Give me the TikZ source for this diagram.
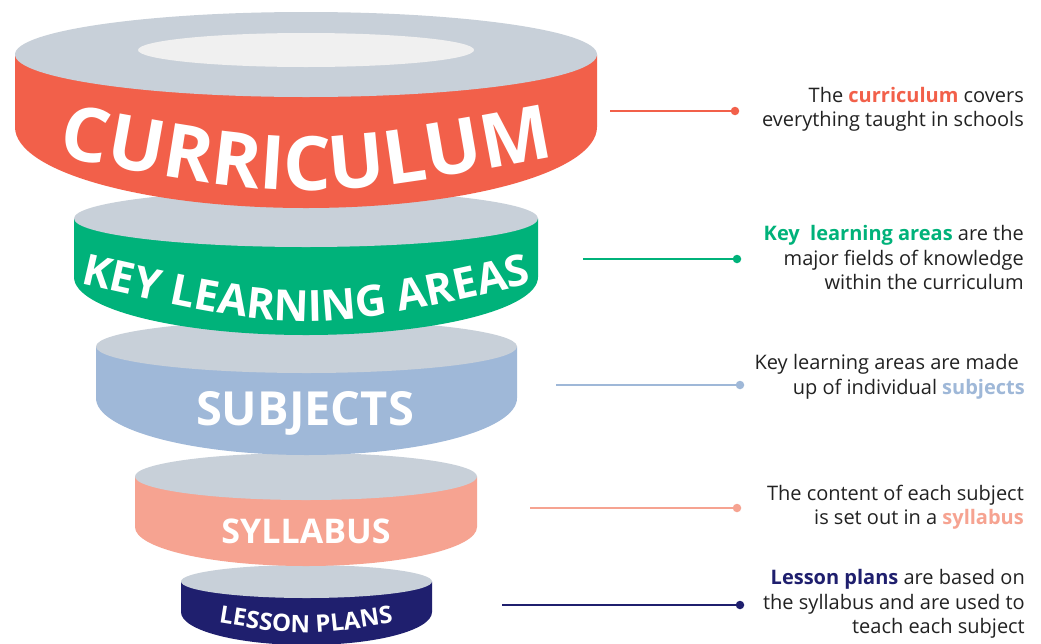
\documentclass[tikz,border=0pt]{standalone}
\usepackage{fontspec}
\setmainfont{Open Sans}
\usetikzlibrary{decorations.text}
\definecolor{cRed}{HTML}{F2604A}
\definecolor{cGreen}{HTML}{00B27A}
\definecolor{cBlue}{HTML}{9FB8D8}
\definecolor{cSalmon}{HTML}{F6A391}
\definecolor{cNavy}{HTML}{1F1F6E}
\definecolor{cTop}{HTML}{C8D0D9}
\definecolor{cHole}{HTML}{F0F0F0}
\definecolor{cTxt}{HTML}{222222}
\tikzset{
  desc/.style={anchor=east, align=right, text=cTxt, inner sep=0pt,
    font=\fontsize{20}{24.5}\selectfont},
  dotmark/.style={circle, fill=#1, minimum size=8.5pt, inner sep=0pt},
  conn/.style={draw=#1, line width=2pt},
  toptone/.style={fill=cTop},
  label/.style={text=white, font=\bfseries, inner sep=0pt, anchor=base}
}
\begin{document}
\begin{tikzpicture}[x=1pt,y=-1pt]
\useasboundingbox (0,0) rectangle (1041,643);
\fill[white] (0,0) rectangle (1041,643);

% ---- Lesson plans (bottom) ----
\fill[cNavy] (181,581.5) -- (181,612) arc[start angle=180,end angle=0,x radius=125.5,y radius=33] -- (432,581.5) -- cycle;
\fill[toptone] (306.5,581.5) ellipse [x radius=125.5, y radius=16.5];
\path[decorate, decoration={text along path, text align=center,
  text={|\fontsize{24}{24}\selectfont\bfseries\color{white}|LESSON PLANS}}]
  (200,619.75) .. controls (306,637.25) .. (412,619.75);

% ---- Syllabus ----
\fill[cSalmon] (135,476.5) -- (135,527) arc[start angle=180,end angle=0,x radius=171,y radius=39] -- (477,476.5) -- cycle;
\fill[toptone] (306,476.5) ellipse [x radius=171, y radius=23.5];
\node[label, font=\fontsize{34}{34}\selectfont\bfseries] (syl) at (306,543) {SYLLABUS};

% ---- Subjects ----
\fill[cBlue] (96,346.5) -- (96,398) arc[start angle=180,end angle=0,x radius=210.5,y radius=57] -- (517,346.5) -- cycle;
\fill[toptone] (306.5,346.5) ellipse [x radius=210.5, y radius=26.5];
\node[label, font=\fontsize{47}{47}\selectfont\bfseries] (sub) at (305,425) {SUBJECTS};

% ---- Key learning areas ----
\fill[cGreen] (74,218.5) -- (74,277) arc[start angle=180,end angle=0,x radius=232,y radius=58] -- (538,218.5) -- cycle;
\fill[toptone] (306,218.5) ellipse [x radius=232, y radius=28.5];
\path[decorate, decoration={text along path, text align=center,
  text={|\fontsize{43}{43}\selectfont\bfseries\color{white}|KEY LEARNING AREAS}}]
  (56,278) .. controls (306,335.5) .. (556,278);

% ---- Curriculum (top) ----
\fill[cRed] (15,54.5) -- (15,127) arc[start angle=180,end angle=0,x radius=291,y radius=81] -- (597,54.5) -- cycle;
\fill[toptone] (306,54.5) ellipse [x radius=291, y radius=42.5];
\fill[cHole] (306,50) ellipse [x radius=168, y radius=17];
\path[decorate, decoration={text along path, text align=center,
  text={|\fontsize{75}{75}\selectfont\bfseries\color{white}|CURRICULUM}}]
  (40,153) .. controls (306,203) .. (572,153);

% ---- Connectors ----
\coordinate (s1) at (610,111);
\node[dotmark=cRed] (d1) at (735,111) {};
\draw[conn=cRed] (s1) -- (d1.center);
\coordinate (s2) at (583,259);
\node[dotmark=cGreen] (d2) at (737,259) {};
\draw[conn=cGreen] (s2) -- (d2.center);
\coordinate (s3) at (556,385);
\node[dotmark=cBlue] (d3) at (740,385) {};
\draw[conn=cBlue] (s3) -- (d3.center);
\coordinate (s4) at (530,508);
\node[dotmark=cSalmon] (d4) at (737,508) {};
\draw[conn=cSalmon] (s4) -- (d4.center);
\coordinate (s5) at (502,605);
\node[dotmark=cNavy] (d5) at (740,605) {};
\draw[conn=cNavy] (s5) -- (d5.center);

% ---- Descriptions ----
\node[desc] (t1) at (1024,109.5) {The \textcolor{cRed}{\bfseries curriculum} covers\\everything taught in schools};
\node[desc] (t2) at (1024,257.5) {\textcolor{cGreen}{\bfseries Key\ \ learning areas} are the\\major fields of knowledge\\within the curriculum};
\node[desc] (t3) at (1025,377) {Key learning areas are made\hspace*{6pt}\\up of individual \textcolor{cBlue}{\bfseries subjects}};
\node[desc] (t4) at (1024,507) {The content of each subject\\is set out in a \textcolor{cSalmon}{\bfseries syllabus}};
\node[desc] (t5) at (1025,604) {\textcolor{cNavy}{\bfseries Lesson plans} are based on\\the syllabus and are used to\\teach each subject};
\end{tikzpicture}
\end{document}
